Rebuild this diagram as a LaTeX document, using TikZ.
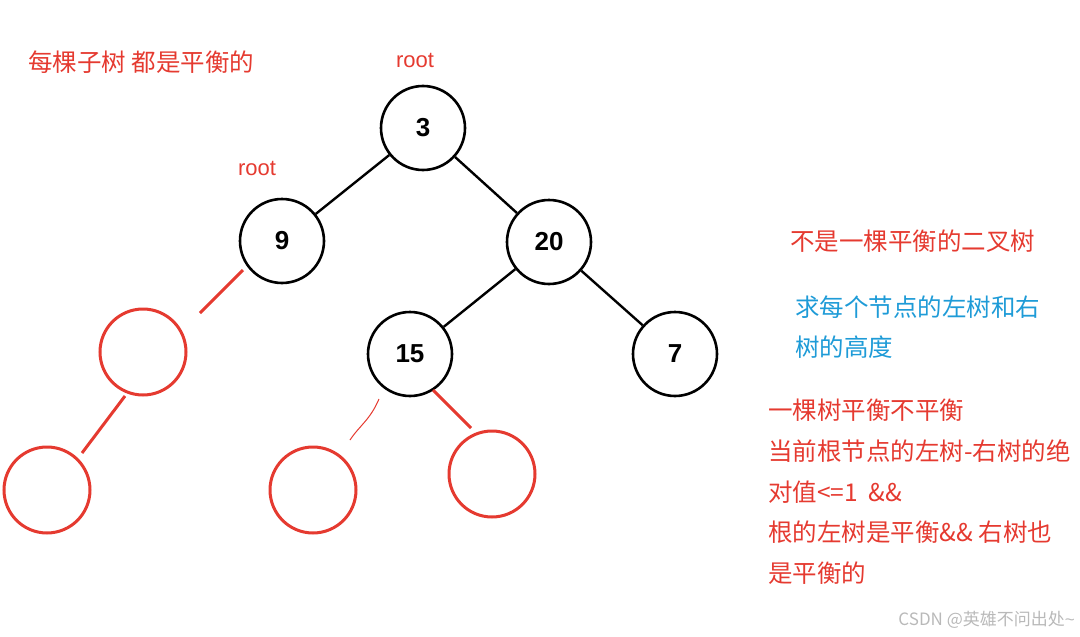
\documentclass[tikz,border=0pt]{standalone}
\usepackage{fontspec}
\setmainfont{Liberation Sans}
\newfontfamily\cjk{Noto Sans CJK SC}
\definecolor{myred}{HTML}{E53A30}
\definecolor{myblue}{HTML}{1E9BD7}
\begin{document}
\begin{tikzpicture}[x=1pt,y=-1pt,
  bn/.style={circle,draw=black,line width=2.6pt,minimum size=84pt,inner sep=0pt,font=\bfseries\fontsize{26}{28}\selectfont},
  rn/.style={circle,draw=myred,line width=3pt,minimum size=86pt,inner sep=0pt},
  bl/.style={line width=2.4pt},
  rl/.style={myred,line width=3pt},
  rt/.style={anchor=west,text=myred,font=\cjk\fontsize{24.5}{26}\selectfont,inner sep=0pt},
  bt/.style={anchor=west,text=myblue,font=\cjk\fontsize{24.5}{26}\selectfont,inner sep=0pt}]
\useasboundingbox (0,0) rectangle (1080,637);
\node[bn] (n3) at (423,128) {3};
\node[bn] (n9) at (282,241) {9};
\node[bn] (n20) at (549,242) {20};
\node[bn] (n15) at (410,354) {15};
\node[bn] (n7) at (675,354) {7};
\node[rn] (r1) at (143,352) {};
\node[rn] (r2) at (47,490) {};
\node[rn] (r3) at (313,490) {};
\node[rn] (r4) at (492,474) {};
\draw[bl] (n3) -- (n9);
\draw[bl] (n3) -- (n20);
\draw[bl] (n20) -- (n15);
\draw[bl] (n20) -- (n7);
\coordinate (a1) at (243,270); \coordinate (a2) at (200,313);
\coordinate (b1) at (125,396); \coordinate (b2) at (82,453);
\coordinate (c1) at (379,399); \coordinate (c2) at (350,440);
\coordinate (d1) at (433,390); \coordinate (d2) at (471,428);
\draw[rl] (a1) -- (a2);
\draw[rl] (b1) -- (b2);
\draw[myred,line width=1pt] (c1) .. controls (370,420) and (360,425) .. (c2);
\draw[rl] (d1) -- (d2);
\node[rt] (t1) at (28,62) {每棵子树 都是平衡的};
\node[text=myred,font=\fontsize{22}{24}\selectfont] (root1) at (415,60) {root};
\node[text=myred,font=\fontsize{22}{24}\selectfont] (root2) at (257,168) {root};
\node[rt] (t2) at (790,241) {不是一棵平衡的二叉树};
\node[bt] (t3) at (795,307) {求每个节点的左树和右};
\node[bt] (t4) at (795,347) {树的高度};
\node[rt] (t5) at (768,410) {一棵树平衡不平衡};
\node[rt] (t6) at (768,451) {当前根节点的左树-右树的绝};
\node[rt] (t7) at (768,492) {对值<=1 \ \&\&};
\node[rt] (t8) at (768,532) {根的左树是平衡\&\& 右树也};
\node[rt] (t9) at (768,573) {是平衡的};
\node[anchor=east,text=gray!55,font=\cjk\fontsize{17}{19}\selectfont,inner sep=0pt] (wm) at (1075,620) {CSDN @英雄不问出处{\rmfamily\char`\~}};
\end{tikzpicture}
\end{document}
